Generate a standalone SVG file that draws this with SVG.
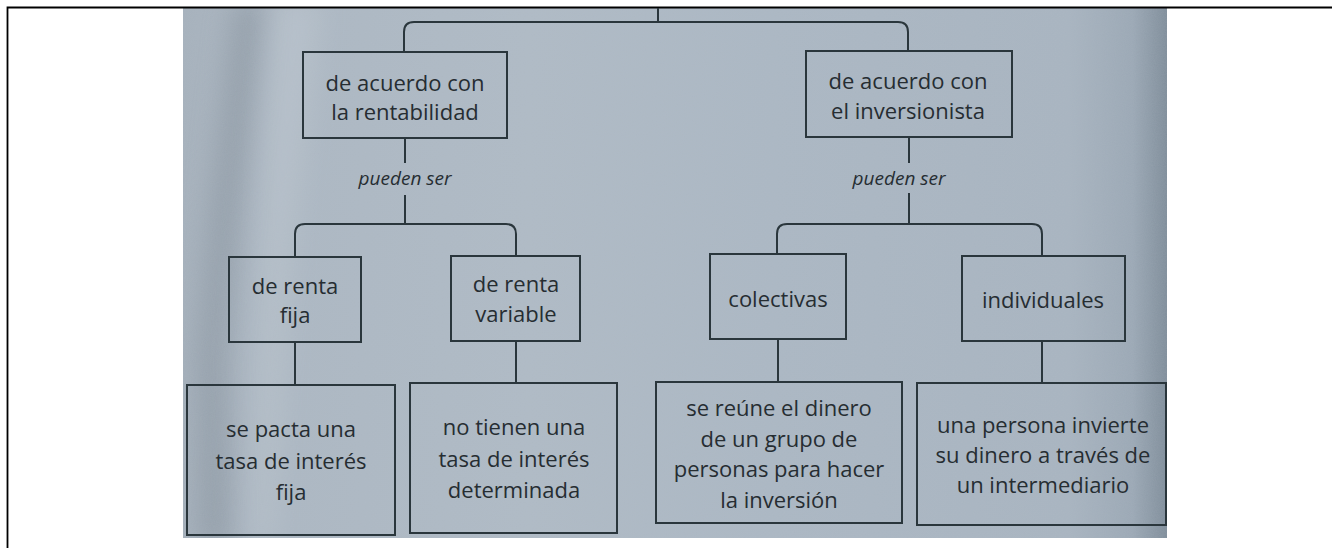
<svg xmlns="http://www.w3.org/2000/svg" width="1332" height="548" viewBox="0 0 1332 548">
  <style>
    .box { fill: none; stroke: #2a363c; stroke-width: 2; }
    .t { font-family: "Open Sans", "Noto Sans", "Liberation Sans", sans-serif; font-size: 22px; fill: #262d32; text-anchor: middle; }
    .lbl { font-family: "Open Sans", "Noto Sans", "Liberation Sans", sans-serif; font-size: 19px; font-style: italic; fill: #262d32; text-anchor: middle; }
    .conn path { fill: none; stroke: #2a363c; stroke-width: 2; }
  </style>
  <defs>
    <linearGradient id="paper" x1="0" y1="0" x2="1" y2="0">
      <stop offset="0" stop-color="#a6b1bc"/>
      <stop offset="0.1" stop-color="#acb7c2"/>
      <stop offset="0.35" stop-color="#afbac5"/>
      <stop offset="0.6" stop-color="#abb7c3"/>
      <stop offset="0.9" stop-color="#a8b4c0"/>
      <stop offset="0.965" stop-color="#9ba8b5"/>
      <stop offset="1" stop-color="#7f8d9a"/>
    </linearGradient>
    <filter id="soft" x="-50%" y="-20%" width="200%" height="140%">
      <feGaussianBlur stdDeviation="14"/>
    </filter>
    <filter id="grain" x="0" y="0" width="100%" height="100%">
      <feTurbulence type="fractalNoise" baseFrequency="0.9" numOctaves="2" seed="3" result="n"/>
      <feColorMatrix in="n" type="matrix" values="0 0 0 0 0.5  0 0 0 0 0.55  0 0 0 0 0.6  0 0 0 0.15 0"/>
    </filter>
    <clipPath id="pageclip">
      <rect x="183" y="8" width="984" height="530"/>
    </clipPath>
  </defs>

  <rect x="0" y="0" width="1332" height="548" fill="#ffffff"/>

  <!-- photographed page -->
  <g id="page" clip-path="url(#pageclip)">
    <rect x="183" y="8" width="984" height="530" fill="url(#paper)"/>
    <path d="M235,0 L265,0 L240,200 L225,360 L230,548 L200,548 L198,360 L212,200 Z" fill="#7f8a95" opacity="0.55" filter="url(#soft)"/>
    <path d="M275,0 L320,0 L290,250 L270,548 L250,548 L262,250 Z" fill="#c3ccd5" opacity="0.45" filter="url(#soft)"/>
    <rect x="183" y="8" width="984" height="530" filter="url(#grain)"/>
  </g>

  <!-- outer frame -->
  <path d="M7.5,548 V7.5 H1332" fill="none" stroke="#000" stroke-width="1.8"/>

  <g id="connectors" class="conn">
    <path d="M658,8 V22"/>
    <path d="M404,52 V32 Q404,22 414,22 H898 Q908,22 908,32 V51"/>
    <path d="M405,138 V163"/>
    <path d="M405,195 V224"/>
    <path d="M295,257 V234 Q295,224 305,224 H506 Q516,224 516,234 V256"/>
    <path d="M909,137 V163"/>
    <path d="M909,193 V224"/>
    <path d="M777,254 V234 Q777,224 787,224 H1032 Q1042,224 1042,234 V256"/>
    <path d="M295,342 V385"/>
    <path d="M516,341 V383"/>
    <path d="M778,339 V382"/>
    <path d="M1042,341 V383"/>
  </g>

  <g id="label-left">
    <text class="lbl" x="405" y="185">pueden ser</text>
  </g>
  <g id="label-right">
    <text class="lbl" x="899" y="185">pueden ser</text>
  </g>

  <g id="n1">
    <rect class="box" x="303" y="52" width="204" height="86"/>
    <text class="t" x="405" y="91">de acuerdo con</text>
    <text class="t" x="405" y="120">la rentabilidad</text>
  </g>
  <g id="n2">
    <rect class="box" x="806" y="51" width="206" height="86"/>
    <text class="t" x="908" y="89">de acuerdo con</text>
    <text class="t" x="908" y="119">el inversionista</text>
  </g>
  <g id="n3">
    <rect class="box" x="229" y="257" width="132" height="85"/>
    <text class="t" x="295" y="294">de renta</text>
    <text class="t" x="295" y="323">fija</text>
  </g>
  <g id="n4">
    <rect class="box" x="451" y="256" width="129" height="85"/>
    <text class="t" x="516" y="292">de renta</text>
    <text class="t" x="516" y="322">variable</text>
  </g>
  <g id="n5">
    <rect class="box" x="710" y="254" width="136" height="85"/>
    <text class="t" x="778" y="307">colectivas</text>
  </g>
  <g id="n6">
    <rect class="box" x="962" y="256" width="163" height="85"/>
    <text class="t" x="1043" y="308">individuales</text>
  </g>
  <g id="n7">
    <rect class="box" x="187" y="385" width="208" height="150"/>
    <text class="t" x="291" y="437">se pacta una</text>
    <text class="t" x="291" y="469">tasa de interés</text>
    <text class="t" x="291" y="500">fija</text>
  </g>
  <g id="n8">
    <rect class="box" x="410" y="383" width="207" height="150"/>
    <text class="t" x="514" y="435">no tienen una</text>
    <text class="t" x="514" y="467">tasa de interés</text>
    <text class="t" x="514" y="498">determinada</text>
  </g>
  <g id="n9">
    <rect class="box" x="656" y="382" width="246" height="141"/>
    <text class="t" x="779" y="416">se reúne el dinero</text>
    <text class="t" x="779" y="447">de un grupo de</text>
    <text class="t" x="779" y="477">personas para hacer</text>
    <text class="t" x="779" y="508">la inversión</text>
  </g>
  <g id="n10">
    <rect class="box" x="917" y="383" width="249" height="142"/>
    <text class="t" x="1043" y="433">una persona invierte</text>
    <text class="t" x="1043" y="463">su dinero a través de</text>
    <text class="t" x="1043" y="493">un intermediario</text>
  </g>
</svg>
